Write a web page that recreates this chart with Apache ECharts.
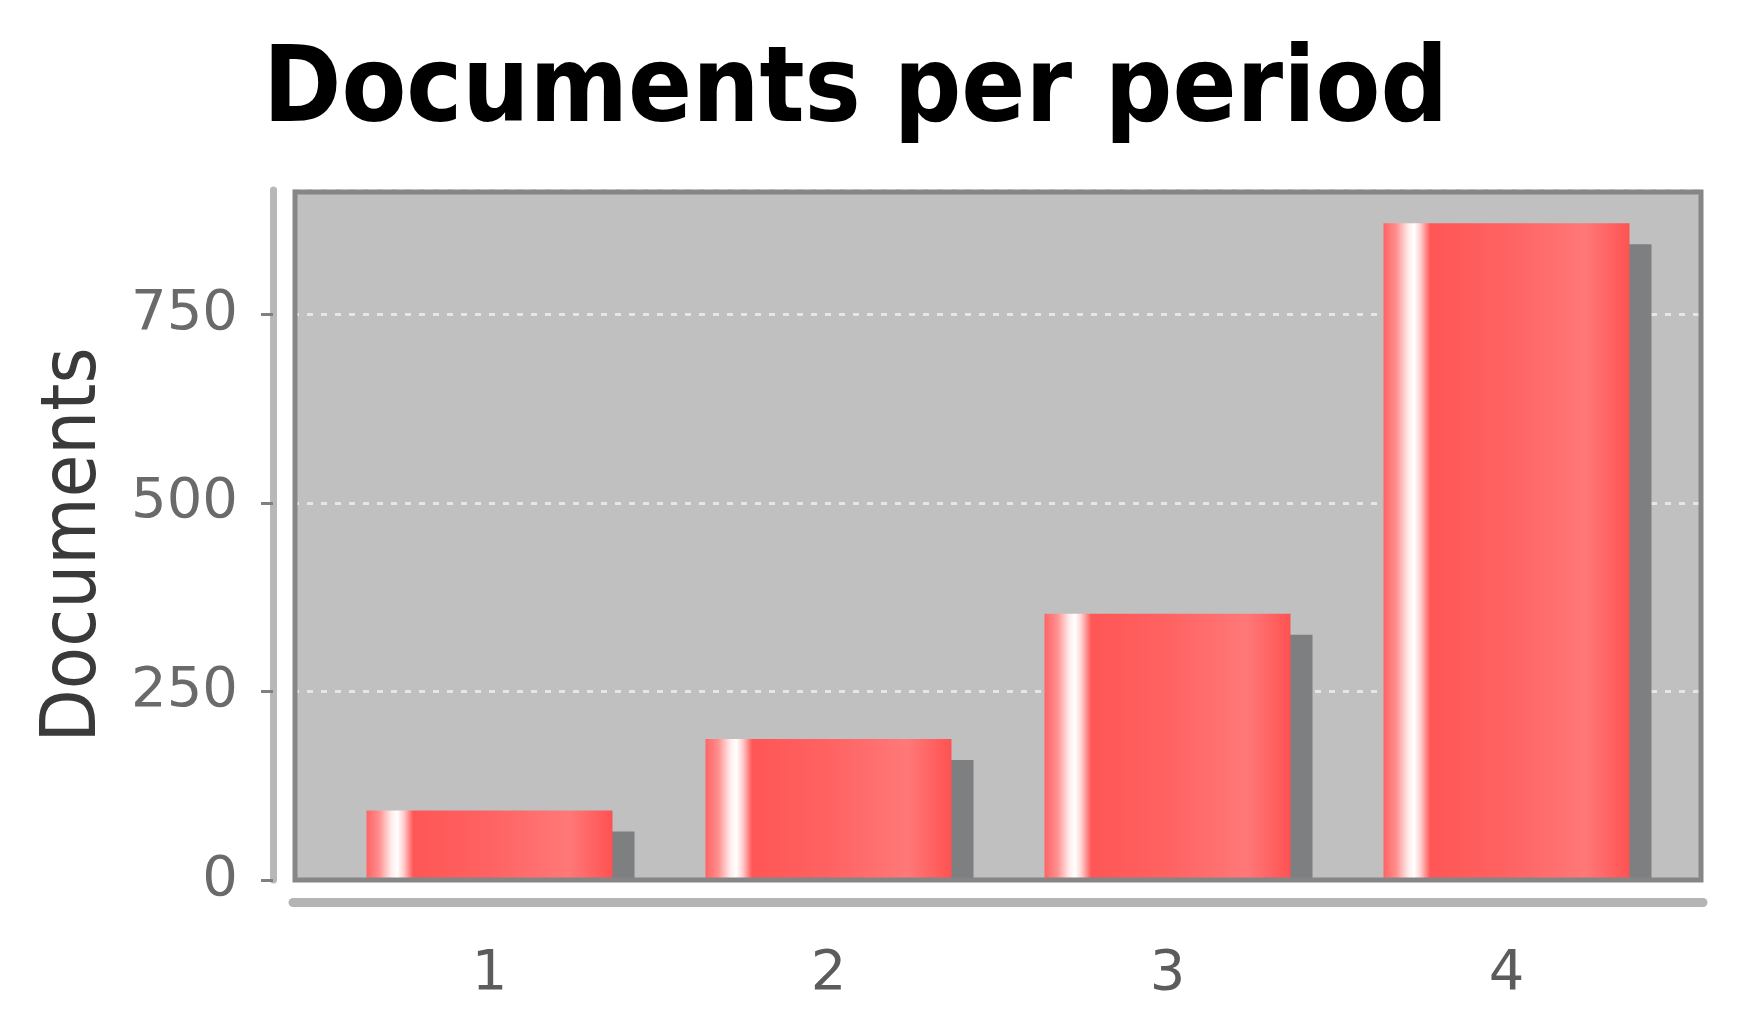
<!DOCTYPE html>
<html>
<head>
<meta charset="utf-8">
<script src="https://cdn.jsdelivr.net/npm/echarts@6/dist/echarts.min.js"></script>
<style>
html,body{margin:0;padding:0;background:#fff;}
#chart{width:1738px;height:1012px;}
</style>
</head>
<body>
<div id="chart"></div>
<script>
var titleText = 'Documents per period';
var yAxisName = 'Documents';
var categories = ['1', '2', '3', '4'];
var documents = [92, 187, 353, 871];
var yMin = 0, yMax = 915, yInterval = 250;

var FONT_C = "'DejaVu Sans Condensed', 'Liberation Sans Narrow', 'DejaVu Sans', sans-serif";
var FONT = "'DejaVu Sans', sans-serif";

// plot frame (layout only)
var PL = 293, PR = 35, PT = 190, PB = 132, W = 1738, H = 1012;

var chart = echarts.init(document.getElementById('chart'), null, {renderer: 'canvas'});

var barGradient = new echarts.graphic.LinearGradient(0, 0, 1, 0, [
  {offset: 0, color: '#ff6464'},
  {offset: 0.05, color: '#ff8c8c'},
  {offset: 0.1, color: '#ffeaea'},
  {offset: 0.125, color: '#ffffff'},
  {offset: 0.15, color: '#ffd0d0'},
  {offset: 0.19, color: '#ff5656'},
  {offset: 0.5, color: '#ff6262'},
  {offset: 0.82, color: '#ff7878'},
  {offset: 1, color: '#ff5252'}
]);

var option = {
  backgroundColor: '#ffffff',
  animation: false,
  title: {
    text: titleText,
    left: 258,
    top: 36,
    textStyle: {fontFamily: FONT_C, fontSize: 105, fontWeight: 'bold', color: '#000'}
  },
  grid: [
    {left: 320, right: 62, top: PT, bottom: PB, containLabel: false},
    {left: PL, right: PR, top: PT, bottom: PB, show: true, backgroundColor: '#c0c0c0',
     borderWidth: 0, z: 0}
  ],
  xAxis: [
    {type: 'category', gridIndex: 0, data: categories,
     axisLine: {show: false}, axisTick: {show: false},
     axisLabel: {fontFamily: FONT, fontSize: 56, color: '#5c5c5c', margin: 94, verticalAlign: 'middle'},
     splitLine: {show: false}},
    {type: 'value', gridIndex: 1, min: 0, max: 1, offset: 22, z: 110,
     axisLine: {show: true, onZero: false, lineStyle: {color: '#b4b4b4', width: 9}},
     axisTick: {show: false}, axisLabel: {show: false}, splitLine: {show: false}}
  ],
  yAxis: [
    {type: 'value', gridIndex: 0, min: yMin, max: yMax, interval: yInterval, show: false},
    {type: 'value', gridIndex: 1, min: yMin, max: yMax, interval: yInterval, offset: 20,
     name: yAxisName, nameLocation: 'middle', nameRotate: 90, nameGap: 160,
     nameTextStyle: {fontFamily: FONT_C, fontSize: 77, color: '#3a3a3a', padding: [0, 20, 0, 0]},
     axisLine: {show: true, onZero: false, lineStyle: {color: '#b8b8b8', width: 7}},
     axisTick: {show: true, length: 12, lineStyle: {color: '#808080', width: 3}},
     axisLabel: {fontFamily: FONT, fontSize: 56, color: '#6a6a6a', margin: 35,
       showMaxLabel: false},
     splitLine: {show: true, lineStyle: {color: '#e6e6e6', width: 3, type: [6, 8]}}}
  ],
  graphic: [
    {type: 'rect', z: 100, silent: true,
     shape: {x: PL - 4, y: H - PB + 0.5, width: W - PL - PR + 8, height: 24},
     style: {fill: '#ffffff'}},
    {type: 'rect', z: 105, silent: true,
     shape: {x: PL + 2, y: PT + 2, width: W - PL - PR - 4, height: H - PT - PB - 2},
     style: {fill: 'none', stroke: '#868686', lineWidth: 5}}
  ],
  series: [
    {type: 'bar', xAxisIndex: 0, yAxisIndex: 0, data: documents, barWidth: 246,
     itemStyle: {color: barGradient, shadowColor: '#7d7f80', shadowBlur: 0,
       shadowOffsetX: 22, shadowOffsetY: 21}}
  ]
};
chart.setOption(option);
</script>
</body>
</html>
